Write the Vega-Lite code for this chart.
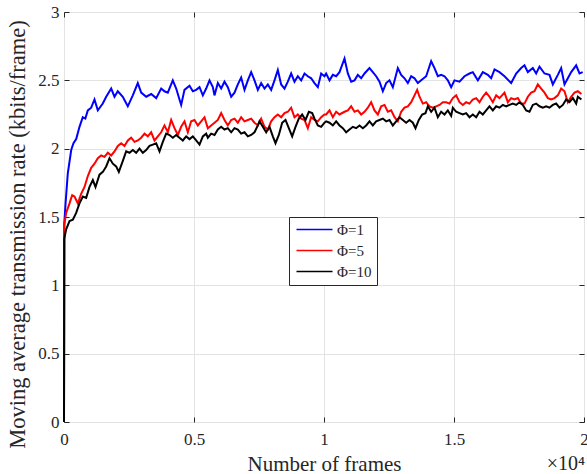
{
  "$schema": "https://vega.github.io/schema/vega-lite/v6.json",
  "width": 520,
  "height": 410,
  "autosize": {"type": "none"},
  "padding": {"left": 64, "top": 12, "right": 3, "bottom": 52},
  "background": "white",
  "config": {
    "font": "Liberation Serif",
    "style": {"guide-label": {"font": "Liberation Serif"}, "guide-title": {"font": "Liberation Serif"}},
    "text": {"font": "Liberation Serif"},
    "view": {"stroke": "#262626", "strokeWidth": 1},
    "axis": {
      "labelFont": "Liberation Serif",
      "titleFont": "Liberation Serif",
      "labelFontSize": 17,
      "titleFontSize": 21,
      "titleFontWeight": "normal",
      "labelColor": "#262626",
      "titleColor": "#262626",
      "tickColor": "#262626",
      "domain": false,
      "gridColor": "#e3e3e3",
      "gridWidth": 1,
      "tickSize": -5,
      "tickWidth": 1
    },
    "legend": {
      "labelFont": "Liberation Serif",
      "labelFontSize": 15,
      "labelColor": "#262626"
    }
  },
  "datasets": {
    "frames": [
      {"frame":0,"rate":0,"series":"Φ=1"},{"frame":10,"rate":1.45,"series":"Φ=1"},{"frame":60,"rate":1.6,"series":"Φ=1"},{"frame":146,"rate":1.82,"series":"Φ=1"},{"frame":277,"rate":1.99,"series":"Φ=1"},{"frame":365,"rate":2.04,"series":"Φ=1"},{"frame":469,"rate":2.07,"series":"Φ=1"},{"frame":596,"rate":2.16,"series":"Φ=1"},{"frame":723,"rate":2.23,"series":"Φ=1"},{"frame":820,"rate":2.22,"series":"Φ=1"},{"frame":915,"rate":2.28,"series":"Φ=1"},{"frame":1046,"rate":2.3,"series":"Φ=1"},{"frame":1173,"rate":2.36,"series":"Φ=1"},{"frame":1300,"rate":2.28,"series":"Φ=1"},{"frame":1492,"rate":2.33,"series":"Φ=1"},{"frame":1623,"rate":2.38,"series":"Φ=1"},{"frame":1815,"rate":2.44,"series":"Φ=1"},{"frame":1942,"rate":2.38,"series":"Φ=1"},{"frame":2069,"rate":2.42,"series":"Φ=1"},{"frame":2261,"rate":2.38,"series":"Φ=1"},{"frame":2454,"rate":2.31,"series":"Φ=1"},{"frame":2646,"rate":2.39,"series":"Φ=1"},{"frame":2838,"rate":2.48,"series":"Φ=1"},{"frame":2969,"rate":2.41,"series":"Φ=1"},{"frame":3161,"rate":2.38,"series":"Φ=1"},{"frame":3354,"rate":2.4,"series":"Φ=1"},{"frame":3546,"rate":2.37,"series":"Φ=1"},{"frame":3738,"rate":2.44,"series":"Φ=1"},{"frame":3865,"rate":2.42,"series":"Φ=1"},{"frame":3992,"rate":2.41,"series":"Φ=1"},{"frame":4184,"rate":2.5,"series":"Φ=1"},{"frame":4315,"rate":2.44,"series":"Φ=1"},{"frame":4442,"rate":2.36,"series":"Φ=1"},{"frame":4507,"rate":2.32,"series":"Φ=1"},{"frame":4634,"rate":2.43,"series":"Φ=1"},{"frame":4827,"rate":2.46,"series":"Φ=1"},{"frame":4955,"rate":2.42,"series":"Φ=1"},{"frame":5083,"rate":2.43,"series":"Φ=1"},{"frame":5212,"rate":2.45,"series":"Φ=1"},{"frame":5340,"rate":2.39,"series":"Φ=1"},{"frame":5468,"rate":2.44,"series":"Φ=1"},{"frame":5596,"rate":2.5,"series":"Φ=1"},{"frame":5724,"rate":2.45,"series":"Φ=1"},{"frame":5788,"rate":2.39,"series":"Φ=1"},{"frame":5917,"rate":2.48,"series":"Φ=1"},{"frame":6045,"rate":2.44,"series":"Φ=1"},{"frame":6173,"rate":2.49,"series":"Φ=1"},{"frame":6301,"rate":2.45,"series":"Φ=1"},{"frame":6430,"rate":2.38,"series":"Φ=1"},{"frame":6558,"rate":2.41,"series":"Φ=1"},{"frame":6686,"rate":2.47,"series":"Φ=1"},{"frame":6814,"rate":2.52,"series":"Φ=1"},{"frame":6942,"rate":2.43,"series":"Φ=1"},{"frame":7071,"rate":2.5,"series":"Φ=1"},{"frame":7199,"rate":2.56,"series":"Φ=1"},{"frame":7327,"rate":2.5,"series":"Φ=1"},{"frame":7455,"rate":2.43,"series":"Φ=1"},{"frame":7583,"rate":2.48,"series":"Φ=1"},{"frame":7712,"rate":2.44,"series":"Φ=1"},{"frame":7840,"rate":2.47,"series":"Φ=1"},{"frame":7968,"rate":2.43,"series":"Φ=1"},{"frame":8096,"rate":2.5,"series":"Φ=1"},{"frame":8224,"rate":2.575,"series":"Φ=1"},{"frame":8352,"rate":2.47,"series":"Φ=1"},{"frame":8481,"rate":2.44,"series":"Φ=1"},{"frame":8609,"rate":2.49,"series":"Φ=1"},{"frame":8737,"rate":2.55,"series":"Φ=1"},{"frame":8865,"rate":2.49,"series":"Φ=1"},{"frame":8993,"rate":2.53,"series":"Φ=1"},{"frame":9122,"rate":2.5,"series":"Φ=1"},{"frame":9250,"rate":2.55,"series":"Φ=1"},{"frame":9378,"rate":2.53,"series":"Φ=1"},{"frame":9506,"rate":2.515,"series":"Φ=1"},{"frame":9634,"rate":2.48,"series":"Φ=1"},{"frame":9763,"rate":2.45,"series":"Φ=1"},{"frame":9891,"rate":2.55,"series":"Φ=1"},{"frame":10019,"rate":2.53,"series":"Φ=1"},{"frame":10083,"rate":2.55,"series":"Φ=1"},{"frame":10212,"rate":2.5,"series":"Φ=1"},{"frame":10340,"rate":2.54,"series":"Φ=1"},{"frame":10468,"rate":2.53,"series":"Φ=1"},{"frame":10596,"rate":2.56,"series":"Φ=1"},{"frame":10789,"rate":2.66,"series":"Φ=1"},{"frame":10917,"rate":2.55,"series":"Φ=1"},{"frame":11045,"rate":2.49,"series":"Φ=1"},{"frame":11173,"rate":2.5,"series":"Φ=1"},{"frame":11301,"rate":2.54,"series":"Φ=1"},{"frame":11430,"rate":2.515,"series":"Φ=1"},{"frame":11558,"rate":2.55,"series":"Φ=1"},{"frame":11750,"rate":2.59,"series":"Φ=1"},{"frame":11878,"rate":2.56,"series":"Φ=1"},{"frame":12006,"rate":2.53,"series":"Φ=1"},{"frame":12135,"rate":2.49,"series":"Φ=1"},{"frame":12263,"rate":2.42,"series":"Φ=1"},{"frame":12391,"rate":2.48,"series":"Φ=1"},{"frame":12519,"rate":2.5,"series":"Φ=1"},{"frame":12647,"rate":2.45,"series":"Φ=1"},{"frame":12840,"rate":2.59,"series":"Φ=1"},{"frame":12968,"rate":2.54,"series":"Φ=1"},{"frame":13096,"rate":2.515,"series":"Φ=1"},{"frame":13224,"rate":2.48,"series":"Φ=1"},{"frame":13353,"rate":2.53,"series":"Φ=1"},{"frame":13481,"rate":2.515,"series":"Φ=1"},{"frame":13609,"rate":2.48,"series":"Φ=1"},{"frame":13737,"rate":2.5,"series":"Φ=1"},{"frame":13929,"rate":2.53,"series":"Φ=1"},{"frame":14122,"rate":2.64,"series":"Φ=1"},{"frame":14250,"rate":2.59,"series":"Φ=1"},{"frame":14378,"rate":2.53,"series":"Φ=1"},{"frame":14506,"rate":2.54,"series":"Φ=1"},{"frame":14635,"rate":2.53,"series":"Φ=1"},{"frame":14763,"rate":2.5,"series":"Φ=1"},{"frame":14891,"rate":2.45,"series":"Φ=1"},{"frame":15019,"rate":2.5,"series":"Φ=1"},{"frame":15212,"rate":2.49,"series":"Φ=1"},{"frame":15404,"rate":2.53,"series":"Φ=1"},{"frame":15596,"rate":2.55,"series":"Φ=1"},{"frame":15724,"rate":2.56,"series":"Φ=1"},{"frame":15917,"rate":2.5,"series":"Φ=1"},{"frame":16109,"rate":2.56,"series":"Φ=1"},{"frame":16301,"rate":2.54,"series":"Φ=1"},{"frame":16429,"rate":2.515,"series":"Φ=1"},{"frame":16558,"rate":2.58,"series":"Φ=1"},{"frame":16750,"rate":2.56,"series":"Φ=1"},{"frame":16942,"rate":2.53,"series":"Φ=1"},{"frame":17199,"rate":2.48,"series":"Φ=1"},{"frame":17391,"rate":2.55,"series":"Φ=1"},{"frame":17583,"rate":2.59,"series":"Φ=1"},{"frame":17711,"rate":2.61,"series":"Φ=1"},{"frame":17840,"rate":2.56,"series":"Φ=1"},{"frame":18032,"rate":2.59,"series":"Φ=1"},{"frame":18160,"rate":2.55,"series":"Φ=1"},{"frame":18288,"rate":2.6,"series":"Φ=1"},{"frame":18481,"rate":2.55,"series":"Φ=1"},{"frame":18673,"rate":2.54,"series":"Φ=1"},{"frame":18801,"rate":2.47,"series":"Φ=1"},{"frame":18994,"rate":2.54,"series":"Φ=1"},{"frame":19122,"rate":2.59,"series":"Φ=1"},{"frame":19250,"rate":2.47,"series":"Φ=1"},{"frame":19378,"rate":2.515,"series":"Φ=1"},{"frame":19507,"rate":2.56,"series":"Φ=1"},{"frame":19699,"rate":2.61,"series":"Φ=1"},{"frame":19827,"rate":2.55,"series":"Φ=1"},{"frame":19950,"rate":2.56,"series":"Φ=1"},
      {"frame":0,"rate":0,"series":"Φ=5"},{"frame":10,"rate":1.44,"series":"Φ=5"},{"frame":83,"rate":1.53,"series":"Φ=5"},{"frame":212,"rate":1.6,"series":"Φ=5"},{"frame":314,"rate":1.66,"series":"Φ=5"},{"frame":404,"rate":1.65,"series":"Φ=5"},{"frame":532,"rate":1.6,"series":"Φ=5"},{"frame":660,"rate":1.67,"series":"Φ=5"},{"frame":789,"rate":1.72,"series":"Φ=5"},{"frame":917,"rate":1.8,"series":"Φ=5"},{"frame":1045,"rate":1.86,"series":"Φ=5"},{"frame":1173,"rate":1.89,"series":"Φ=5"},{"frame":1301,"rate":1.93,"series":"Φ=5"},{"frame":1430,"rate":1.95,"series":"Φ=5"},{"frame":1558,"rate":1.94,"series":"Φ=5"},{"frame":1686,"rate":1.97,"series":"Φ=5"},{"frame":1814,"rate":1.95,"series":"Φ=5"},{"frame":1942,"rate":1.98,"series":"Φ=5"},{"frame":2071,"rate":2.02,"series":"Φ=5"},{"frame":2199,"rate":2.04,"series":"Φ=5"},{"frame":2327,"rate":2.02,"series":"Φ=5"},{"frame":2455,"rate":2.06,"series":"Φ=5"},{"frame":2583,"rate":2.08,"series":"Φ=5"},{"frame":2712,"rate":2.05,"series":"Φ=5"},{"frame":2840,"rate":2.06,"series":"Φ=5"},{"frame":2968,"rate":2.08,"series":"Φ=5"},{"frame":3096,"rate":2.11,"series":"Φ=5"},{"frame":3224,"rate":2.09,"series":"Φ=5"},{"frame":3353,"rate":2.12,"series":"Φ=5"},{"frame":3481,"rate":2.06,"series":"Φ=5"},{"frame":3609,"rate":2.09,"series":"Φ=5"},{"frame":3737,"rate":2.12,"series":"Φ=5"},{"frame":3865,"rate":2.17,"series":"Φ=5"},{"frame":3994,"rate":2.12,"series":"Φ=5"},{"frame":4122,"rate":2.21,"series":"Φ=5"},{"frame":4250,"rate":2.15,"series":"Φ=5"},{"frame":4378,"rate":2.1,"series":"Φ=5"},{"frame":4506,"rate":2.16,"series":"Φ=5"},{"frame":4635,"rate":2.2,"series":"Φ=5"},{"frame":4763,"rate":2.12,"series":"Φ=5"},{"frame":4891,"rate":2.2,"series":"Φ=5"},{"frame":5019,"rate":2.21,"series":"Φ=5"},{"frame":5148,"rate":2.17,"series":"Φ=5"},{"frame":5276,"rate":2.2,"series":"Φ=5"},{"frame":5404,"rate":2.23,"series":"Φ=5"},{"frame":5532,"rate":2.15,"series":"Φ=5"},{"frame":5660,"rate":2.17,"series":"Φ=5"},{"frame":5789,"rate":2.19,"series":"Φ=5"},{"frame":5917,"rate":2.21,"series":"Φ=5"},{"frame":6045,"rate":2.26,"series":"Φ=5"},{"frame":6173,"rate":2.21,"series":"Φ=5"},{"frame":6301,"rate":2.17,"series":"Φ=5"},{"frame":6430,"rate":2.21,"series":"Φ=5"},{"frame":6558,"rate":2.22,"series":"Φ=5"},{"frame":6686,"rate":2.19,"series":"Φ=5"},{"frame":6814,"rate":2.23,"series":"Φ=5"},{"frame":6942,"rate":2.2,"series":"Φ=5"},{"frame":7071,"rate":2.21,"series":"Φ=5"},{"frame":7199,"rate":2.22,"series":"Φ=5"},{"frame":7327,"rate":2.19,"series":"Φ=5"},{"frame":7455,"rate":2.17,"series":"Φ=5"},{"frame":7583,"rate":2.22,"series":"Φ=5"},{"frame":7712,"rate":2.16,"series":"Φ=5"},{"frame":7840,"rate":2.14,"series":"Φ=5"},{"frame":7968,"rate":2.2,"series":"Φ=5"},{"frame":8096,"rate":2.23,"series":"Φ=5"},{"frame":8224,"rate":2.25,"series":"Φ=5"},{"frame":8353,"rate":2.23,"series":"Φ=5"},{"frame":8481,"rate":2.26,"series":"Φ=5"},{"frame":8609,"rate":2.27,"series":"Φ=5"},{"frame":8737,"rate":2.3,"series":"Φ=5"},{"frame":8865,"rate":2.23,"series":"Φ=5"},{"frame":8994,"rate":2.25,"series":"Φ=5"},{"frame":9122,"rate":2.22,"series":"Φ=5"},{"frame":9250,"rate":2.21,"series":"Φ=5"},{"frame":9378,"rate":2.15,"series":"Φ=5"},{"frame":9506,"rate":2.23,"series":"Φ=5"},{"frame":9635,"rate":2.21,"series":"Φ=5"},{"frame":9763,"rate":2.2,"series":"Φ=5"},{"frame":9891,"rate":2.23,"series":"Φ=5"},{"frame":10019,"rate":2.25,"series":"Φ=5"},{"frame":10083,"rate":2.25,"series":"Φ=5"},{"frame":10212,"rate":2.28,"series":"Φ=5"},{"frame":10340,"rate":2.23,"series":"Φ=5"},{"frame":10468,"rate":2.27,"series":"Φ=5"},{"frame":10596,"rate":2.25,"series":"Φ=5"},{"frame":10789,"rate":2.27,"series":"Φ=5"},{"frame":10917,"rate":2.28,"series":"Φ=5"},{"frame":11045,"rate":2.31,"series":"Φ=5"},{"frame":11173,"rate":2.27,"series":"Φ=5"},{"frame":11301,"rate":2.28,"series":"Φ=5"},{"frame":11430,"rate":2.25,"series":"Φ=5"},{"frame":11558,"rate":2.27,"series":"Φ=5"},{"frame":11686,"rate":2.3,"series":"Φ=5"},{"frame":11814,"rate":2.34,"series":"Φ=5"},{"frame":11942,"rate":2.28,"series":"Φ=5"},{"frame":12071,"rate":2.25,"series":"Φ=5"},{"frame":12199,"rate":2.31,"series":"Φ=5"},{"frame":12327,"rate":2.32,"series":"Φ=5"},{"frame":12455,"rate":2.27,"series":"Φ=5"},{"frame":12583,"rate":2.28,"series":"Φ=5"},{"frame":12712,"rate":2.23,"series":"Φ=5"},{"frame":12840,"rate":2.2,"series":"Φ=5"},{"frame":12968,"rate":2.27,"series":"Φ=5"},{"frame":13096,"rate":2.3,"series":"Φ=5"},{"frame":13224,"rate":2.31,"series":"Φ=5"},{"frame":13353,"rate":2.34,"series":"Φ=5"},{"frame":13481,"rate":2.39,"series":"Φ=5"},{"frame":13583,"rate":2.43,"series":"Φ=5"},{"frame":13673,"rate":2.38,"series":"Φ=5"},{"frame":13801,"rate":2.33,"series":"Φ=5"},{"frame":13929,"rate":2.34,"series":"Φ=5"},{"frame":14058,"rate":2.31,"series":"Φ=5"},{"frame":14186,"rate":2.3,"series":"Φ=5"},{"frame":14314,"rate":2.31,"series":"Φ=5"},{"frame":14442,"rate":2.32,"series":"Φ=5"},{"frame":14571,"rate":2.34,"series":"Φ=5"},{"frame":14699,"rate":2.34,"series":"Φ=5"},{"frame":14827,"rate":2.33,"series":"Φ=5"},{"frame":14955,"rate":2.37,"series":"Φ=5"},{"frame":15083,"rate":2.39,"series":"Φ=5"},{"frame":15212,"rate":2.34,"series":"Φ=5"},{"frame":15340,"rate":2.32,"series":"Φ=5"},{"frame":15468,"rate":2.34,"series":"Φ=5"},{"frame":15596,"rate":2.33,"series":"Φ=5"},{"frame":15724,"rate":2.36,"series":"Φ=5"},{"frame":15853,"rate":2.37,"series":"Φ=5"},{"frame":15981,"rate":2.34,"series":"Φ=5"},{"frame":16109,"rate":2.38,"series":"Φ=5"},{"frame":16237,"rate":2.41,"series":"Φ=5"},{"frame":16365,"rate":2.38,"series":"Φ=5"},{"frame":16494,"rate":2.34,"series":"Φ=5"},{"frame":16622,"rate":2.39,"series":"Φ=5"},{"frame":16750,"rate":2.37,"series":"Φ=5"},{"frame":16942,"rate":2.41,"series":"Φ=5"},{"frame":17071,"rate":2.34,"series":"Φ=5"},{"frame":17199,"rate":2.37,"series":"Φ=5"},{"frame":17327,"rate":2.36,"series":"Φ=5"},{"frame":17455,"rate":2.37,"series":"Φ=5"},{"frame":17583,"rate":2.33,"series":"Φ=5"},{"frame":17712,"rate":2.33,"series":"Φ=5"},{"frame":17840,"rate":2.38,"series":"Φ=5"},{"frame":17968,"rate":2.41,"series":"Φ=5"},{"frame":18096,"rate":2.42,"series":"Φ=5"},{"frame":18224,"rate":2.47,"series":"Φ=5"},{"frame":18353,"rate":2.44,"series":"Φ=5"},{"frame":18481,"rate":2.41,"series":"Φ=5"},{"frame":18609,"rate":2.37,"series":"Φ=5"},{"frame":18737,"rate":2.36,"series":"Φ=5"},{"frame":18865,"rate":2.37,"series":"Φ=5"},{"frame":18994,"rate":2.39,"series":"Φ=5"},{"frame":19122,"rate":2.44,"series":"Φ=5"},{"frame":19250,"rate":2.42,"series":"Φ=5"},{"frame":19378,"rate":2.34,"series":"Φ=5"},{"frame":19506,"rate":2.38,"series":"Φ=5"},{"frame":19635,"rate":2.41,"series":"Φ=5"},{"frame":19763,"rate":2.42,"series":"Φ=5"},{"frame":19900,"rate":2.4,"series":"Φ=5"},
      {"frame":0,"rate":0,"series":"Φ=10"},{"frame":10,"rate":1.34,"series":"Φ=10"},{"frame":83,"rate":1.41,"series":"Φ=10"},{"frame":212,"rate":1.47,"series":"Φ=10"},{"frame":340,"rate":1.48,"series":"Φ=10"},{"frame":468,"rate":1.53,"series":"Φ=10"},{"frame":596,"rate":1.6,"series":"Φ=10"},{"frame":724,"rate":1.65,"series":"Φ=10"},{"frame":853,"rate":1.64,"series":"Φ=10"},{"frame":981,"rate":1.72,"series":"Φ=10"},{"frame":1109,"rate":1.77,"series":"Φ=10"},{"frame":1212,"rate":1.72,"series":"Φ=10"},{"frame":1365,"rate":1.81,"series":"Φ=10"},{"frame":1494,"rate":1.83,"series":"Φ=10"},{"frame":1622,"rate":1.87,"series":"Φ=10"},{"frame":1750,"rate":1.93,"series":"Φ=10"},{"frame":1878,"rate":1.89,"series":"Φ=10"},{"frame":2006,"rate":1.87,"series":"Φ=10"},{"frame":2109,"rate":1.83,"series":"Φ=10"},{"frame":2263,"rate":1.91,"series":"Φ=10"},{"frame":2391,"rate":1.98,"series":"Φ=10"},{"frame":2519,"rate":1.97,"series":"Φ=10"},{"frame":2647,"rate":1.99,"series":"Φ=10"},{"frame":2776,"rate":1.97,"series":"Φ=10"},{"frame":2904,"rate":2.0,"series":"Φ=10"},{"frame":3032,"rate":1.97,"series":"Φ=10"},{"frame":3160,"rate":1.99,"series":"Φ=10"},{"frame":3288,"rate":2.02,"series":"Φ=10"},{"frame":3417,"rate":2.03,"series":"Φ=10"},{"frame":3545,"rate":2.04,"series":"Φ=10"},{"frame":3673,"rate":1.98,"series":"Φ=10"},{"frame":3801,"rate":2.05,"series":"Φ=10"},{"frame":3929,"rate":2.11,"series":"Φ=10"},{"frame":4058,"rate":2.1,"series":"Φ=10"},{"frame":4186,"rate":2.08,"series":"Φ=10"},{"frame":4314,"rate":2.1,"series":"Φ=10"},{"frame":4442,"rate":2.08,"series":"Φ=10"},{"frame":4570,"rate":2.06,"series":"Φ=10"},{"frame":4699,"rate":2.09,"series":"Φ=10"},{"frame":4827,"rate":2.07,"series":"Φ=10"},{"frame":4955,"rate":2.09,"series":"Φ=10"},{"frame":5083,"rate":2.06,"series":"Φ=10"},{"frame":5212,"rate":2.03,"series":"Φ=10"},{"frame":5340,"rate":2.09,"series":"Φ=10"},{"frame":5468,"rate":2.11,"series":"Φ=10"},{"frame":5532,"rate":2.08,"series":"Φ=10"},{"frame":5660,"rate":2.11,"series":"Φ=10"},{"frame":5789,"rate":2.1,"series":"Φ=10"},{"frame":5917,"rate":2.14,"series":"Φ=10"},{"frame":6045,"rate":2.16,"series":"Φ=10"},{"frame":6173,"rate":2.14,"series":"Φ=10"},{"frame":6301,"rate":2.15,"series":"Φ=10"},{"frame":6430,"rate":2.12,"series":"Φ=10"},{"frame":6558,"rate":2.15,"series":"Φ=10"},{"frame":6686,"rate":2.14,"series":"Φ=10"},{"frame":6814,"rate":2.11,"series":"Φ=10"},{"frame":6942,"rate":2.12,"series":"Φ=10"},{"frame":7071,"rate":2.09,"series":"Φ=10"},{"frame":7199,"rate":2.1,"series":"Φ=10"},{"frame":7327,"rate":2.12,"series":"Φ=10"},{"frame":7455,"rate":2.17,"series":"Φ=10"},{"frame":7519,"rate":2.2,"series":"Φ=10"},{"frame":7647,"rate":2.16,"series":"Φ=10"},{"frame":7776,"rate":2.12,"series":"Φ=10"},{"frame":7904,"rate":2.16,"series":"Φ=10"},{"frame":8032,"rate":2.09,"series":"Φ=10"},{"frame":8135,"rate":2.04,"series":"Φ=10"},{"frame":8263,"rate":2.1,"series":"Φ=10"},{"frame":8391,"rate":2.19,"series":"Φ=10"},{"frame":8519,"rate":2.21,"series":"Φ=10"},{"frame":8647,"rate":2.15,"series":"Φ=10"},{"frame":8776,"rate":2.09,"series":"Φ=10"},{"frame":8904,"rate":2.16,"series":"Φ=10"},{"frame":9032,"rate":2.22,"series":"Φ=10"},{"frame":9160,"rate":2.25,"series":"Φ=10"},{"frame":9288,"rate":2.21,"series":"Φ=10"},{"frame":9417,"rate":2.27,"series":"Φ=10"},{"frame":9545,"rate":2.26,"series":"Φ=10"},{"frame":9635,"rate":2.22,"series":"Φ=10"},{"frame":9763,"rate":2.17,"series":"Φ=10"},{"frame":9891,"rate":2.16,"series":"Φ=10"},{"frame":10019,"rate":2.19,"series":"Φ=10"},{"frame":10083,"rate":2.2,"series":"Φ=10"},{"frame":10212,"rate":2.19,"series":"Φ=10"},{"frame":10340,"rate":2.17,"series":"Φ=10"},{"frame":10468,"rate":2.2,"series":"Φ=10"},{"frame":10596,"rate":2.17,"series":"Φ=10"},{"frame":10724,"rate":2.15,"series":"Φ=10"},{"frame":10853,"rate":2.12,"series":"Φ=10"},{"frame":10981,"rate":2.14,"series":"Φ=10"},{"frame":11109,"rate":2.16,"series":"Φ=10"},{"frame":11237,"rate":2.15,"series":"Φ=10"},{"frame":11365,"rate":2.17,"series":"Φ=10"},{"frame":11494,"rate":2.15,"series":"Φ=10"},{"frame":11622,"rate":2.17,"series":"Φ=10"},{"frame":11750,"rate":2.2,"series":"Φ=10"},{"frame":11878,"rate":2.17,"series":"Φ=10"},{"frame":12006,"rate":2.2,"series":"Φ=10"},{"frame":12135,"rate":2.21,"series":"Φ=10"},{"frame":12263,"rate":2.22,"series":"Φ=10"},{"frame":12391,"rate":2.2,"series":"Φ=10"},{"frame":12519,"rate":2.21,"series":"Φ=10"},{"frame":12647,"rate":2.17,"series":"Φ=10"},{"frame":12776,"rate":2.2,"series":"Φ=10"},{"frame":12904,"rate":2.23,"series":"Φ=10"},{"frame":13032,"rate":2.21,"series":"Φ=10"},{"frame":13160,"rate":2.19,"series":"Φ=10"},{"frame":13288,"rate":2.21,"series":"Φ=10"},{"frame":13417,"rate":2.19,"series":"Φ=10"},{"frame":13519,"rate":2.15,"series":"Φ=10"},{"frame":13647,"rate":2.21,"series":"Φ=10"},{"frame":13776,"rate":2.25,"series":"Φ=10"},{"frame":13904,"rate":2.26,"series":"Φ=10"},{"frame":13994,"rate":2.31,"series":"Φ=10"},{"frame":14122,"rate":2.27,"series":"Φ=10"},{"frame":14250,"rate":2.3,"series":"Φ=10"},{"frame":14378,"rate":2.23,"series":"Φ=10"},{"frame":14506,"rate":2.27,"series":"Φ=10"},{"frame":14635,"rate":2.25,"series":"Φ=10"},{"frame":14763,"rate":2.28,"series":"Φ=10"},{"frame":14891,"rate":2.24,"series":"Φ=10"},{"frame":14955,"rate":2.3,"series":"Φ=10"},{"frame":15083,"rate":2.27,"series":"Φ=10"},{"frame":15212,"rate":2.26,"series":"Φ=10"},{"frame":15340,"rate":2.25,"series":"Φ=10"},{"frame":15468,"rate":2.26,"series":"Φ=10"},{"frame":15596,"rate":2.23,"series":"Φ=10"},{"frame":15724,"rate":2.25,"series":"Φ=10"},{"frame":15853,"rate":2.23,"series":"Φ=10"},{"frame":15981,"rate":2.27,"series":"Φ=10"},{"frame":16109,"rate":2.25,"series":"Φ=10"},{"frame":16237,"rate":2.28,"series":"Φ=10"},{"frame":16365,"rate":2.31,"series":"Φ=10"},{"frame":16494,"rate":2.28,"series":"Φ=10"},{"frame":16622,"rate":2.31,"series":"Φ=10"},{"frame":16750,"rate":2.3,"series":"Φ=10"},{"frame":16878,"rate":2.32,"series":"Φ=10"},{"frame":17006,"rate":2.31,"series":"Φ=10"},{"frame":17135,"rate":2.32,"series":"Φ=10"},{"frame":17263,"rate":2.33,"series":"Φ=10"},{"frame":17391,"rate":2.32,"series":"Φ=10"},{"frame":17519,"rate":2.34,"series":"Φ=10"},{"frame":17647,"rate":2.32,"series":"Φ=10"},{"frame":17776,"rate":2.28,"series":"Φ=10"},{"frame":17904,"rate":2.27,"series":"Φ=10"},{"frame":18032,"rate":2.32,"series":"Φ=10"},{"frame":18160,"rate":2.33,"series":"Φ=10"},{"frame":18288,"rate":2.31,"series":"Φ=10"},{"frame":18417,"rate":2.3,"series":"Φ=10"},{"frame":18545,"rate":2.31,"series":"Φ=10"},{"frame":18673,"rate":2.3,"series":"Φ=10"},{"frame":18801,"rate":2.32,"series":"Φ=10"},{"frame":18929,"rate":2.33,"series":"Φ=10"},{"frame":19058,"rate":2.3,"series":"Φ=10"},{"frame":19186,"rate":2.32,"series":"Φ=10"},{"frame":19314,"rate":2.36,"series":"Φ=10"},{"frame":19442,"rate":2.34,"series":"Φ=10"},{"frame":19570,"rate":2.37,"series":"Φ=10"},{"frame":19699,"rate":2.33,"series":"Φ=10"},{"frame":19763,"rate":2.38,"series":"Φ=10"},{"frame":19900,"rate":2.36,"series":"Φ=10"}
    ],
    "note": [{"frame": 20000, "rate": 0, "label": "×10⁴"}]
  },
  "layer": [
    {
      "data": {"name": "frames"},
      "mark": {"type": "line", "strokeWidth": 2, "interpolate": "linear"},
      "encoding": {
        "x": {
          "field": "frame", "type": "quantitative",
          "scale": {"domain": [0, 20000], "nice": false, "zero": false},
          "axis": {"values": [0, 5000, 10000, 15000, 20000], "labelExpr": "datum.value / 10000", "title": "Number of frames", "grid": true, "labelFont": "Liberation Serif", "titleFont": "Liberation Serif", "labelPadding": 14, "titlePadding": 6, "labelFlush": false}
        },
        "y": {
          "field": "rate", "type": "quantitative",
          "scale": {"domain": [0, 3], "nice": false},
          "axis": {"values": [0, 0.5, 1, 1.5, 2, 2.5, 3], "format": "~g", "title": "Moving average transmission rate (kbits/frame)", "grid": true, "labelFont": "Liberation Serif", "titleFont": "Liberation Serif", "titleFontSize": 22.5, "titleY": 222, "labelPadding": 10, "titlePadding": 8}
        },
        "color": {
          "field": "series", "type": "nominal",
          "scale": {"domain": ["Φ=1", "Φ=5", "Φ=10"], "range": ["#0000ff", "#ff0000", "#000000"]},
          "legend": {
            "title": null, "orient": "none", "legendX": 225, "legendY": 205,
            "symbolType": "M-1,0H6.2", "symbolSize": 100, "symbolStrokeWidth": 1.5,
            "labelFont": "Liberation Serif", "labelFontSize": 15,
            "strokeColor": "#262626", "fillColor": "white", "padding": 5,
            "labelOffset": 28, "rowPadding": 5
          }
        },
        "order": {"field": "frame", "type": "quantitative"}
      }
    },
    {
      "data": {"name": "note"},
      "mark": {"type": "text", "align": "right", "baseline": "alphabetic", "dx": 1, "dy": 48, "fontSize": 20, "font": "Liberation Serif", "color": "#262626"},
      "encoding": {
        "x": {"field": "frame", "type": "quantitative", "axis": {"orient": "top", "values": [0, 5000, 10000, 15000, 20000], "labels": false, "title": null, "grid": false}},
        "y": {"field": "rate", "type": "quantitative", "axis": {"orient": "right", "values": [0, 0.5, 1, 1.5, 2, 2.5, 3], "labels": false, "title": null, "grid": false}},
        "text": {"field": "label"}
      }
    }
  ],
  "resolve": {"axis": {"x": "independent", "y": "independent"}}
}
